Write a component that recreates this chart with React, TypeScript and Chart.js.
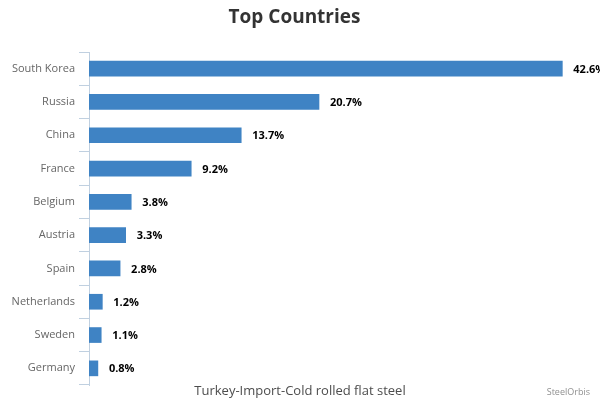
import { useEffect, useRef } from "react"
import { Chart, registerables } from "chart.js"

Chart.register(...registerables)

const countries = [
  "South Korea",
  "Russia",
  "China",
  "France",
  "Belgium",
  "Austria",
  "Spain",
  "Netherlands",
  "Sweden",
  "Germany",
]
const shares = [42.6, 20.7, 13.7, 9.2, 3.8, 3.3, 2.8, 1.2, 1.1, 0.8]

const FONT = "'Open Sans', sans-serif"

// value labels to the right of each bar + bottom captions
const labelsPlugin = {
  id: "barLabels",
  afterDatasetsDraw(chart: Chart) {
    const ctx = chart.ctx
    const meta = chart.getDatasetMeta(0)
    ctx.save()
    ctx.font = `bold 11px ${FONT}`
    ctx.fillStyle = "#000"
    ctx.textAlign = "left"
    ctx.textBaseline = "middle"
    meta.data.forEach((bar: any, i: number) => {
      ctx.fillText(`${shares[i].toFixed(1)}%`, bar.x + 11, bar.y + 1)
    })
    ctx.restore()
  },
  afterDraw(chart: Chart) {
    const ctx = chart.ctx
    ctx.save()
    ctx.textBaseline = "middle"
    ctx.textAlign = "center"
    ctx.font = `13px ${FONT}`
    ctx.fillStyle = "#4d4d4d"
    ctx.fillText("Turkey-Import-Cold rolled flat steel", 300, 391)
    ctx.textAlign = "right"
    ctx.font = `9px ${FONT}`
    ctx.fillStyle = "#909090"
    ctx.fillText("SteelOrbis", 590, 392)
    ctx.restore()
  },
}

export default function App() {
  const chartRef = useRef<HTMLCanvasElement>(null)
  const chartInstance = useRef<Chart | null>(null)

  useEffect(() => {
    if (!chartRef.current) return
    if (chartInstance.current) chartInstance.current.destroy()

    const ctx = chartRef.current.getContext("2d")
    if (!ctx) return

    chartInstance.current = new Chart(ctx, {
      type: "bar",
      data: {
        labels: countries,
        datasets: [
          {
            label: "Share",
            data: shares,
            backgroundColor: "#3f83c4",
            borderWidth: 0,
            barThickness: 15,
          },
        ],
      },
      options: {
        indexAxis: "y",
        responsive: true,
        maintainAspectRatio: false,
        animation: false,
        layout: { padding: { left: 0, right: 11, top: 0, bottom: 15 } },
        plugins: {
          legend: { display: false },
          tooltip: { enabled: false },
          title: {
            display: true,
            text: "Top Countries",
            color: "#333",
            font: { family: FONT, size: 19, weight: "bold" },
            padding: { top: 6, bottom: 23.2 },
          },
        },
        scales: {
          x: { display: false, min: 0, max: 45 },
          y: {
            grid: { drawOnChartArea: false, tickLength: 10, color: "#c0d0e0", offset: true },
            border: { color: "#c0d0e0" },
            ticks: { color: "#666", font: { family: FONT, size: 11 }, padding: 4 },
            afterFit: (scale: any) => {
              scale.width = 89
            },
          },
        },
      },
      plugins: [labelsPlugin],
    })

    return () => {
      if (chartInstance.current) chartInstance.current.destroy()
    }
  }, [])

  return (
    <div style={{ position: "fixed", left: 0, top: 0, width: 600, height: 400, background: "#fff" }}>
      <canvas ref={chartRef} />
    </div>
  )
}
